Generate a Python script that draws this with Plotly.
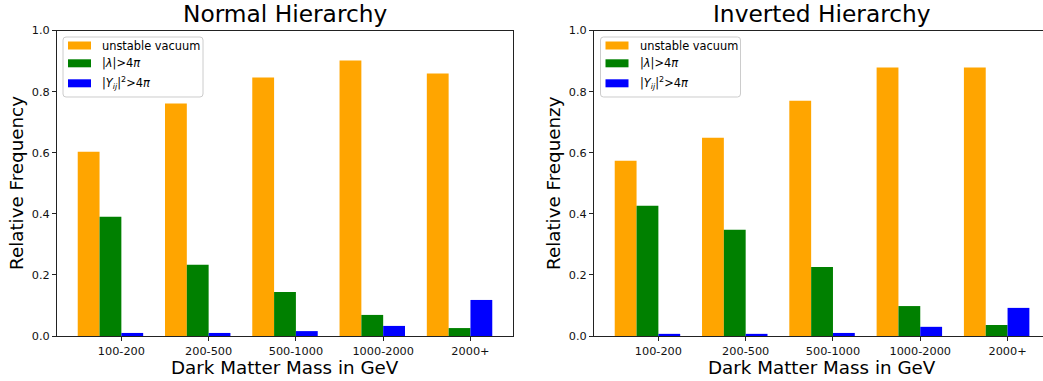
import plotly.graph_objects as go

# Mass bins (x positions 0..4) and their labels
mass_bins = ["100-200", "200-500", "500-1000", "1000-2000", "2000+"]
bin_pos = [0, 1, 2, 3, 4]

# Relative frequency of each failure reason, normal hierarchy
normal_vacuum = [0.603, 0.761, 0.846, 0.902, 0.859]
normal_lambda = [0.390, 0.233, 0.144, 0.069, 0.026]
normal_yukawa = [0.010, 0.010, 0.016, 0.033, 0.118]

# Relative frequency of each failure reason, inverted hierarchy
inverted_vacuum = [0.574, 0.649, 0.770, 0.879, 0.879]
inverted_lambda = [0.426, 0.348, 0.226, 0.098, 0.036]
inverted_yukawa = [0.007, 0.007, 0.010, 0.030, 0.092]

y_ticks = [0.0, 0.2, 0.4, 0.6, 0.8, 1.0]

series_names = [
    "unstable vacuum",
    "|<i>λ</i>|>4<i>π</i>",
    "|<i>Y</i><sub><i>ij</i></sub>|<sup>2</sup>>4<i>π</i>",
]
series_colors = ["#FFA500", "#008000", "#0000FF"]
bar_width = 0.25
bar_offsets = [-0.5, -0.25, 0.0]

FONT = "DejaVu Sans"
W, H = 1043, 381


def px_x(x):
    return x / W


def px_y(y):
    return 1 - y / H


fig = go.Figure()


def add_panel(values, xaxis, yaxis):
    for vals, name, color, off in zip(values, series_names, series_colors, bar_offsets):
        fig.add_trace(go.Bar(
            x=bin_pos, y=vals, name=name,
            width=bar_width, offset=off,
            marker=dict(color=color, line=dict(width=0)),
            xaxis=xaxis, yaxis=yaxis, showlegend=False,
        ))


add_panel([normal_vacuum, normal_lambda, normal_yukawa], "x", "y")
add_panel([inverted_vacuum, inverted_lambda, inverted_yukawa], "x2", "y2")

spine = "#222222"
common_x = dict(
    tickmode="array", tickvals=bin_pos, ticktext=mass_bins,
    ticks="outside", ticklen=4, tickcolor=spine, tickwidth=1,
    showline=True, linecolor=spine, linewidth=1, mirror=True,
    showgrid=False, zeroline=False, automargin=False,
    tickfont=dict(family=FONT, size=11.3, color="#111111"),
)
common_y = dict(
    range=[0, 1], tickmode="array", tickvals=y_ticks,
    ticktext=[f"{v:.1f}" for v in y_ticks],
    ticks="outside", ticklen=4, tickcolor=spine, tickwidth=1,
    showline=True, linecolor=spine, linewidth=1,
    showgrid=False, zeroline=False, automargin=False,
    tickfont=dict(family=FONT, size=11.3, color="#111111"),
)

y_dom = [px_y(336), px_y(30.5)]

fig.update_layout(
    width=W, height=H,
    margin=dict(l=0, r=0, t=0, b=0, autoexpand=False),
    paper_bgcolor="white", plot_bgcolor="white",
    barmode="overlay", showlegend=False,
    font=dict(family=FONT, color="black"),
    xaxis=dict(domain=[px_x(57), px_x(513)], range=[-0.7375, 4.4875], anchor="y", **common_x),
    yaxis=dict(domain=y_dom, anchor="x", mirror=True, **common_y),
    xaxis2=dict(domain=[px_x(594), 1.0], range=[-0.7375, 4.406], anchor="y2", **common_x),
    yaxis2=dict(domain=y_dom, anchor="x2", mirror=False, **common_y),
)


def rounded_box(x0, y0, x1, y1, r):
    """SVG path (paper coords) of a rectangle with rounded corners, given in pixels."""
    pts = [
        ("M", x0 + r, y0), ("L", x1 - r, y0), ("Q", x1, y0, x1, y0 + r),
        ("L", x1, y1 - r), ("Q", x1, y1, x1 - r, y1), ("L", x0 + r, y1),
        ("Q", x0, y1, x0, y1 - r), ("L", x0, y0 + r), ("Q", x0, y0, x0 + r, y0),
    ]
    out = []
    for p in pts:
        cmd, coords = p[0], p[1:]
        xy = []
        for i in range(0, len(coords), 2):
            xy.append(f"{px_x(coords[i]):.6f},{px_y(coords[i + 1]):.6f}")
        out.append(cmd + " ".join(xy))
    return " ".join(out) + " Z"


def add_legend_box(x0):
    # frame
    fig.add_shape(type="path", path=rounded_box(x0, 37, x0 + 140, 97, 3),
                  xref="paper", yref="paper",
                  fillcolor="rgba(255,255,255,0.8)",
                  line=dict(color="#cccccc", width=1), layer="above")
    row_centers = [45.5, 63.3, 83.3]
    for name, color, yc in zip(series_names, series_colors, row_centers):
        fig.add_shape(type="rect", xref="paper", yref="paper",
                      x0=px_x(x0 + 5), x1=px_x(x0 + 28),
                      y0=px_y(yc - 4), y1=px_y(yc + 4),
                      fillcolor=color, line=dict(width=0), layer="above")
        fig.add_annotation(text=name, x=px_x(x0 + 37), y=px_y(yc),
                           xref="paper", yref="paper", xanchor="left", yanchor="middle",
                           showarrow=False,
                           font=dict(family=FONT, size=11.4, color="black"))


add_legend_box(63)
add_legend_box(600.5)

# Titles and axis labels
left_c = px_x(285)
right_c = px_x(821.5)
ann = [
    dict(text="Normal Hierarchy", x=left_c, y=px_y(14), size=23.3, angle=0),
    dict(text="Inverted Hierarchy", x=right_c, y=px_y(14), size=23.3, angle=0),
    dict(text="Dark Matter Mass in GeV", x=left_c, y=px_y(367), size=18.3, angle=0),
    dict(text="Dark Matter Mass in GeV", x=right_c, y=px_y(367), size=18.3, angle=0),
    dict(text="Relative Frequency", x=px_x(16), y=px_y(183), size=18.3, angle=-90),
    dict(text="Relative Frequenzy", x=px_x(553), y=px_y(183), size=18.3, angle=-90),
]
for a in ann:
    fig.add_annotation(
        text=a["text"], x=a["x"], y=a["y"], xref="paper", yref="paper",
        xanchor="center", yanchor="middle", showarrow=False,
        textangle=a["angle"], font=dict(family=FONT, size=a["size"], color="black"),
    )

fig.write_html("out.html")
